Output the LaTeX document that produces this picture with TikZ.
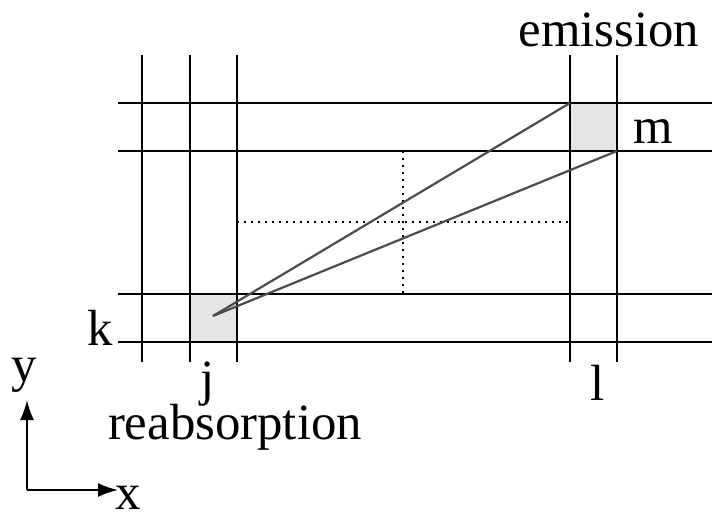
\documentclass[tikz,border=0pt]{standalone}
\usepackage{fontspec}
\usetikzlibrary{arrows.meta}
\setmainfont{Liberation Serif}
\begin{document}
\begin{tikzpicture}[x=1bp,y=-1bp,
  grid/.style={black,line width=2bp},
  ray/.style={black!70,line width=2.2bp},
  dots/.style={black,line width=2bp,dash pattern=on 2bp off 5bp},
  lab/.style={font=\fontsize{51}{51}\selectfont,inner sep=0pt}]
\useasboundingbox (0,0) rectangle (719,531);
\fill[black!10] (570,103) rectangle (617,151);
\fill[black!10] (190,294) rectangle (237,342);
\foreach \x in {142,190,237,570,617} \draw[grid] (\x,55) -- (\x,362);
\foreach \y in {103,151,294,342} \draw[grid] (118,\y) -- (712,\y);
\draw[dots] (403,151) -- (403,294);
\draw[dots] (237,222) -- (570,222);
\coordinate (src) at (213,316);
\coordinate (e1) at (570,103);
\coordinate (e2) at (617,151);
\draw[ray] (src) -- (e1);
\draw[ray] (src) -- (e2);
\node[lab] (em) at (609,30) {emission};
\node[lab] (m) at (653,132) {m};
\node[lab] (k) at (100,328) {k};
\node[lab] (j) at (208,384) {j};
\node[lab] (l) at (598,383) {l};
\node[lab] (re) at (235,427) {reabsorption};
\node[lab] (y) at (24,375) {y};
\node[lab] (xl) at (128,498) {x};
\coordinate (o) at (27,490);
\draw[line width=2bp,-{Latex[length=20bp,width=14bp]}] (o) -- (27,400);
\draw[line width=2bp,-{Latex[length=20bp,width=14bp]}] (o) -- (118,490);
\end{tikzpicture}
\end{document}
